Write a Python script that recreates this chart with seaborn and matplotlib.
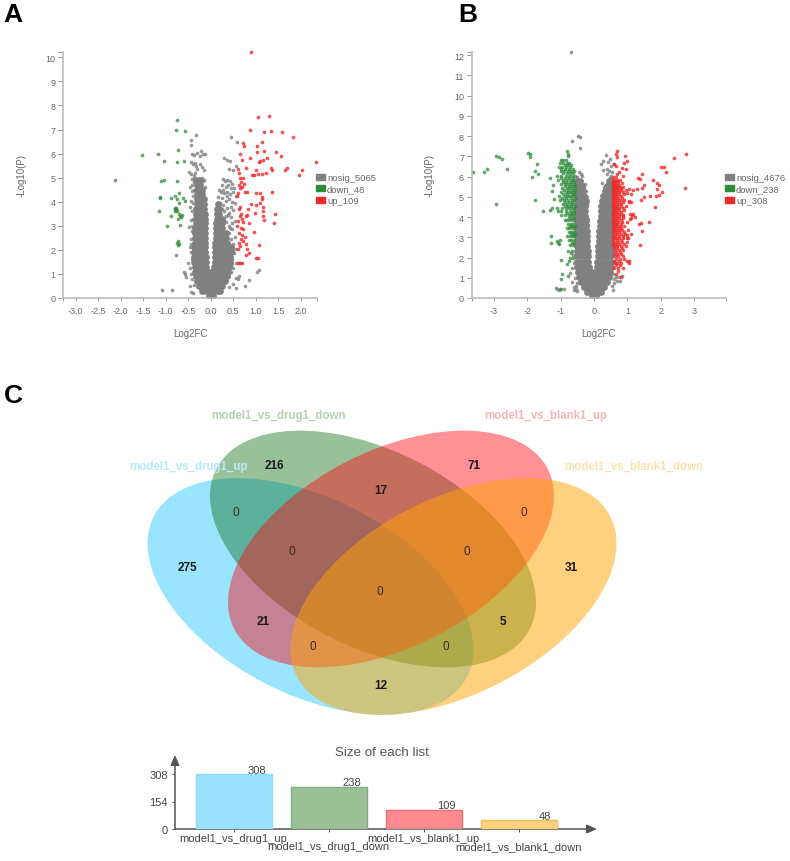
import matplotlib
matplotlib.use("Agg")
import matplotlib.pyplot as plt
from matplotlib.patches import Ellipse, Patch
import pandas as pd
import seaborn as sns

sns.set_theme(style="white")
plt.rcParams["font.family"] = ["Liberation Sans", "DejaVu Sans"]

W, H = 790, 862
GRAY, GREEN, RED = "#808080", "#2E8B3A", "#EE2A2A"
TXT = "#666666"

# ---------- Panel A values (-log10P row, Log2FC readings) ----------
a_gray_rows = [
 (0.1,[-.04,.04]),(0.3,[-.19,-.1,-.02,.06,.14,.2]),(0.5,[-.26,-.17,-.08,0,.08,.17,.26]),
 (0.7,[-.3,-.21,-.12,-.03,.05,.14,.23,.31]),(0.9,[-.33,-.24,-.15,-.06,.03,.12,.21,.3,.36]),
 (1.1,[-.35,-.26,-.17,-.08,-.02,.05,.13,.22,.31,.38]),(1.3,[-.36,-.27,-.18,-.1,.08,.15,.24,.33,.4]),
 (1.5,[-.37,-.28,-.19,-.11,.09,.16,.25,.34,.42]),(1.7,[-.37,-.28,-.19,-.11,.09,.17,.26,.35,.43]),
 (1.9,[-.37,-.28,-.19,-.12,.1,.18,.27,.36,.45]),(2.1,[-.37,-.28,-.19,-.12,.1,.18,.27,.35,.44]),
 (2.3,[-.36,-.27,-.19,-.12,.1,.18,.26,.35]),(2.5,[-.36,-.27,-.19,-.13,.11,.18,.26,.34]),
 (2.7,[-.35,-.27,-.19,-.13,.11,.18,.26,.33]),(2.9,[-.34,-.26,-.19,-.13,.12,.19,.26]),
 (3.1,[-.33,-.25,-.18,-.13,.12,.19,.26]),(3.3,[-.33,-.25,-.18,-.13,.13,.19,.25]),
 (3.5,[-.33,-.25,-.18,-.13,.13,.18]),(3.7,[-.32,-.25,-.18,-.14,.14,.19]),
 (3.9,[-.31,-.25,-.19,-.15,.15]),(4.1,[-.31,-.25,-.19,-.16]),(4.3,[-.31,-.25,-.2]),
 (4.5,[-.3,-.25,-.2]),(4.7,[-.3,-.25]),(4.9,[-.32,-.26]),
]
a_gray_sparse = [
 (-.33,6.77),(-.44,6.55),(-.44,6.35),(-.42,6.0),(-.38,5.95),(-.3,6.02),(-.25,5.92),(-.22,6.1),(-.18,5.98),(-.12,6.0),
 (-.45,5.65),(-.4,5.55),(-.36,5.6),(-.32,5.5),(-.3,5.38),(-.25,5.55),(-.2,5.45),(-.14,5.3),(-.48,5.25),(-.43,5.15),
 (-.38,5.05),(-.35,5.2),(-.42,4.95),(-.37,4.8),(-.46,4.6),(-.42,4.45),(-.2,5.0),(-.17,4.85),(-.14,4.9),(-.12,4.6),
 (-.39,4.25),(-.43,4.05),(-.47,3.8),(-.41,3.6),(-.45,3.25),(-.48,2.95),(-.42,2.8),(-.44,2.45),(-.47,2.1),(-.43,1.9),
 (-.41,1.6),(-.5,1.45),(-.47,1.25),(-.6,1.1),(-.57,.98),(-.55,.87),(-.44,1.0),(-.41,.8),(-.46,.5),(-.43,.25),(-.4,.22),
 (-.78,1.78),(-1.08,.34),(-.87,.32),(-.37,.55),(-.41,4.7),(-.38,4.5),(-.4,3.95),(-.39,3.3),(-.42,3.0),(-.43,2.25),
 (.45,6.68),(.58,6.5),(.3,5.82),(.36,5.75),(.42,5.7),(.5,5.3),(.4,5.35),(.55,5.5),(.27,4.95),(.31,4.88),(.36,4.92),
 (.42,4.85),(.26,4.7),(.33,4.6),(.39,4.68),(.47,4.75),(.52,4.55),(.18,4.5),(.23,4.4),(.3,4.35),(.37,4.42),(.43,4.3),
 (.5,4.4),(.55,4.25),(.15,4.2),(.25,4.15),(.33,4.05),(.4,4.1),(.47,4.0),(.54,3.95),(.21,3.95),(.28,3.85),(.36,3.75),
 (.44,3.8),(.5,3.65),(.3,3.6),(.38,3.45),(.46,3.35),(.54,3.2),(.33,3.15),(.4,3.0),(.47,2.85),(.53,2.55),(.5,2.25),
 (.55,2.05),(.51,1.85),(.47,1.6),(.56,1.45),(.5,1.25),(.45,1.1),(.55,.85),(.6,.8),(.62,.9),(.5,.6),(.4,.45),(.57,.4),
 (1.07,1.18),(1.02,1.1),(.84,.75),(.77,.5),(.35,4.25),(.28,4.5),(.44,4.55),(.25,3.7),(.41,3.55),(.33,3.4),(.48,3.1),
 (.4,2.7),(.45,2.45),(.42,2.9),(.29,3.25),(.5,2.0),(.48,1.4),
]
a_down = [
 (-2.13,4.9),(-1.53,5.95),(-1.18,6.0),(-1.05,5.7),(-.75,7.4),(-.77,7.0),(-.57,6.95),(-.72,6.15),(-.75,5.65),(-.6,5.7),
 (-1.1,4.85),(-1.03,4.9),(-.76,4.85),(-1.13,4.2),(-1.12,4.15),(-.89,4.15),(-.79,4.25),(-.71,4.35),(-.74,4.1),(-.62,4.15),
 (-.57,4.05),(-.7,3.95),(-1.15,3.6),(-.8,3.75),(-.78,3.7),(-.8,3.6),(-.76,3.6),(-.88,3.4),(-.7,3.5),(-.68,3.4),(-.65,3.45),
 (-.72,3.3),(-.97,3.0),(-.68,3.05),(-.72,2.35),(-.71,2.25),(-.72,2.2),(-.74,2.3),(-.67,3.35),(-.78,3.65),(-.79,3.7),(-.77,3.75),
]
a_up = [
 (.9,10.2),(1.05,7.5),(1.3,7.55),(.87,7.0),(1.18,6.9),(1.33,6.92),(1.59,6.88),(1.83,6.7),(.72,6.45),(.74,6.3),(1.03,6.33),
 (1.13,6.47),(1.18,6.12),(1.45,6.06),(1.55,5.9),(.65,5.98),(1.02,6.05),(.7,5.75),(.88,5.8),(1.15,5.75),(1.1,5.7),(1.07,5.65),
 (1.24,5.8),(2.33,5.65),(2.02,5.32),(1.95,5.1),(1.7,5.42),(1.65,5.3),(1.34,5.4),(1.35,5.3),(1.22,5.2),(1.13,5.15),(1.05,5.15),
 (.97,5.12),(.92,5.1),(1.0,5.3),(.78,5.4),(.6,5.35),(.62,5.2),(.72,5.0),(.65,5.0),(.68,4.8),(.73,4.75),(.62,4.7),(.7,4.6),
 (.66,4.55),(.75,4.4),(.8,4.42),(.6,4.35),(.58,4.25),(1.0,4.35),(1.1,4.35),(1.37,4.42),(1.13,4.2),(1.14,4.1),(.9,3.9),(1.0,3.85),
 (1.1,3.95),(1.17,3.8),(1.43,3.5),(1.17,3.6),(1.15,3.4),(1.18,3.25),(1.41,3.1),(.82,3.7),(.65,3.8),(.62,3.7),(.8,3.45),(.78,3.42),
 (.98,3.55),(.65,3.4),(.7,3.3),(.72,3.15),(.6,3.2),(.85,3.1),(.68,2.9),(.72,2.85),(.95,2.75),(.62,2.7),(.7,2.6),(.75,2.55),(.68,2.45),
 (.72,2.35),(.62,2.3),(.78,2.25),(1.08,2.2),(.65,2.15),(.6,2.05),(.8,2.05),(.85,1.85),(.78,1.8),(1.0,1.65),(1.05,1.65),(.6,1.45),
 (.65,1.45),(.7,1.45),(.67,3.5),(.58,3.0),
]
a_xticks = [-3.0,-2.5,-2.0,-1.5,-1.0,-0.5,0.0,0.5,1.0,1.5,2.0]
a_yticks = [0,1,2,3,4,5,6,7,8,9,10]
a_legend = ["nosig_5065","down_48","up_109"]

# ---------- Panel B values ----------
b_gray_rows = [
 (.1,[-.05,.05]),(.3,[-.2,-.1,0,.1,.2]),(.55,[-.3,-.2,-.1,0,.1,.2,.3]),(.8,[-.4,-.3,-.2,-.1,-.02,.04,.1,.2,.3,.4]),
 (1.05,[-.45,-.34,-.23,-.12,-.05,.05,.12,.23,.34,.45]),(1.3,[-.48,-.36,-.25,-.14,-.07,.07,.14,.25,.36,.47]),
 (1.55,[-.5,-.38,-.27,-.16,.09,.17,.28,.39,.5]),(1.8,[-.52,-.4,-.28,-.17,.1,.18,.29,.4,.5]),
 (2.05,[-.52,-.4,-.29,-.18,.11,.2,.3,.41,.5]),(2.3,[-.5,-.39,-.29,-.19,.12,.21,.31,.42,.5]),
 (2.55,[-.5,-.39,-.29,-.2,.13,.22,.32,.42,.5]),(2.8,[-.5,-.39,-.3,-.21,.14,.23,.33,.42,.5]),
 (3.05,[-.5,-.4,-.31,-.22,.15,.24,.33,.43,.5]),(3.3,[-.5,-.4,-.31,-.22,.16,.25,.34,.43,.5]),
 (3.55,[-.5,-.41,-.32,-.23,.17,.26,.35,.44,.5]),(3.8,[-.5,-.41,-.33,-.25,.18,.27,.35,.44,.5]),
 (4.05,[-.5,-.42,-.34,-.26,.2,.28,.36,.45,.5]),(4.3,[-.5,-.42,-.34,-.26,.21,.29,.37,.46,.5]),
 (4.55,[-.5,-.42,-.34,-.26,.22,.3,.38,.46,.5]),(4.8,[-.5,-.4,-.3,-.25,.23,.31,.4,.48]),
 (5.05,[-.5,-.4,-.3,.26,.33,.42,.5]),(5.3,[-.5,-.41,-.33,.33,.42,.5]),(5.55,[-.5,-.41,-.35,.4,.46,.52]),
 (5.8,[-.5,-.42,.45,.5]),
]
b_gray_sparse = [
 (-.7,12.15),(-.47,8.0),(-.43,7.95),(-.65,7.75),(-.42,7.4),(.35,7.05),(.22,6.6),(.28,6.75),(.48,6.85),(.42,6.7),(.6,6.6),
 (.5,6.5),(.38,6.35),(.26,6.3),(.46,6.25),(.55,6.2),(.4,6.1),(.52,6.02),(.47,5.95),(-.45,6.2),(-.4,6.12),(-.35,6.05),(-.5,6.0),
 (-.27,5.65),(-.3,5.5),(-.24,5.3),(-.2,5.0),(-.22,4.6),(.24,5.7),(.3,5.5),(-.19,3.9),(-.17,3.6),(-.58,1.0),(-.65,.8),(-.5,.75),
 (-.53,.6),(-.6,.55),(-.55,.45),(-.6,.4),(-.52,.35),(-1.1,.45),(-1.15,.5),(-.98,.45),(-1.05,.4),(-.9,.42),(-.72,1.25),(-.66,1.5),
 (-.6,1.75),(-.62,2.1),(.55,.6),(.6,.95),(.65,1.05),(.75,1.05),(.85,1.1),(.7,.85),(.57,.4),(.58,1.2),(.6,.75),(.77,.85),
]
b_down_rows = [
 (2.0,[-.72,-.62]),(2.3,[-.78,-.66]),(2.6,[-.72,-.63]),(2.85,[-.76,-.68,-.6]),(3.05,[-.8,-.72,-.66,-.6]),
 (3.25,[-.75,-.69,-.62]),(3.45,[-.82,-.74,-.67,-.61]),(3.65,[-.78,-.7,-.63]),(3.85,[-.88,-.8,-.71,-.64]),
 (4.1,[-1.0,-.86,-.76,-.69,-.62]),(4.3,[-1.08,-.98,-.83,-.72,-.64]),(4.45,[-1.1,-.95,-.85,-.74,-.66,-.6]),
 (4.65,[-.92,-.82,-.7,-.62]),(4.85,[-1.02,-.9,-.78,-.67,-.6]),(5.05,[-1.05,-.88,-.79,-.72,-.62]),
 (5.25,[-.98,-.85,-.75,-.68,-.6]),(5.45,[-.95,-.82,-.72,-.63]),(5.65,[-1.0,-.88,-.78,-.68,-.6]),
 (5.85,[-1.08,-.92,-.8,-.7,-.62]),(6.05,[-1.12,-.98,-.85,-.74,-.66,-.58]),(6.25,[-1.0,-.9,-.78,-.68,-.6]),
 (6.45,[-1.06,-.95,-.84,-.72]),(6.65,[-1.02,-.92,-.8,-.75]),(6.8,[-1.0,-.94,-.85]),
 (2.72,[-.67,-.59]),(3.16,[-.7,-.58]),(3.55,[-.72,-.65,-.58]),(3.95,[-.76,-.66,-.6]),(4.2,[-.8,-.7,-.59]),
 (4.55,[-.88,-.78,-.68,-.58]),(4.75,[-.86,-.75,-.65]),(4.95,[-.96,-.84,-.7,-.58]),(5.15,[-.93,-.82,-.67,-.59]),
 (5.35,[-.9,-.78,-.65,-.57]),(5.55,[-.86,-.75,-.66,-.58]),(5.75,[-.94,-.83,-.73,-.64]),(5.95,[-1.0,-.87,-.76,-.64]),
 (6.15,[-.94,-.82,-.71,-.63]),(6.35,[-.98,-.86,-.74,-.64]),(6.55,[-.88,-.78,-.7]),
]
b_down = [
 (-.8,7.25),(-.79,7.1),(-.78,7.0),(-2.93,7.02),(-2.85,6.95),(-2.76,6.88),(-1.97,7.17),(-1.93,7.1),(-1.93,6.98),(-3.2,6.35),
 (-3.3,6.22),(-2.6,6.37),(-1.72,6.62),(-1.78,6.25),(-1.67,6.1),(-1.85,5.98),(-3.63,6.2),(-2.92,4.65),(-1.77,4.85),(-1.52,4.3),
 (-1.32,4.35),(-1.25,4.45),(-1.33,5.95),(-1.22,5.6),(-1.27,5.3),(-1.2,4.9),(-1.28,3.05),(-1.28,2.72),(-1.12,2.8),(-1.08,2.72),
 (-1.05,2.65),(-1.02,2.85),(-.98,1.9),(-.82,1.7),(-.75,1.85),(-.95,1.2),(-.98,.95),(-.77,1.1),(-.7,2.2),(-.62,3.2),(-1.02,.45),
]
b_up_rows = [
 (1.5,[.6,.72,.88]),(1.75,[.62,.7,.8,1.04]),(1.95,[.66,.78,.9]),(2.15,[.6,.7,.82]),(2.35,[.63,.74,.88]),
 (2.55,[.6,.68,.8,.95]),(2.75,[.62,.72,.84,.98]),(2.95,[.6,.66,.76,.88,1.0]),(3.15,[.62,.7,.8,.93]),
 (3.35,[.59,.66,.75,.85,1.02]),(3.55,[.6,.68,.78,.9]),(3.75,[.58,.64,.72,.84,.98]),(3.95,[.6,.67,.76,.88,1.12]),
 (4.15,[.58,.63,.72,.82,1.08,1.18]),(4.35,[.6,.66,.76,.9]),(4.55,[.58,.64,.7,.8,.96]),(4.75,[.6,.67,.76,.88,1.04]),
 (4.95,[.58,.63,.72,.84]),(5.15,[.6,.66,.76,.9]),(5.35,[.58,.64,.72,.82,.95]),(5.5,[.6,.68,.78,.88]),
 (5.7,[.58,.64,.72,.84]),(5.85,[.6,.68,.78]),(5.98,[.58,.65]),
 (1.63,[.66,.78]),(1.85,[.6,.74]),(2.05,[.62,.72,.86]),(2.25,[.66,.78]),(2.45,[.6,.7,.84]),(2.65,[.58,.66,.76,.9]),
 (2.85,[.58,.68,.82]),(3.05,[.58,.64,.74,.86]),(3.25,[.58,.66,.76,.9]),(3.45,[.58,.64,.72,.82]),(3.65,[.56,.62,.7,.8]),
 (3.85,[.56,.63,.7,.82]),(4.05,[.57,.66,.76,.86]),(4.25,[.56,.62,.7,.8]),(4.45,[.57,.62,.68,.76,.86]),
 (4.65,[.57,.63,.72,.82]),(4.85,[.56,.62,.68,.78,.9]),(5.05,[.57,.62,.7,.8]),(5.25,[.56,.62,.68,.76,.86]),
 (5.42,[.57,.63,.7,.8]),(5.6,[.56,.62,.68,.76]),(5.78,[.56,.62,.7]),
]
b_up = [
 (.68,7.25),(.65,7.1),(.92,7.0),(.7,6.95),(.98,6.75),(.9,6.65),(.6,6.6),(.65,6.5),(.85,6.4),(.95,6.35),(.75,6.2),(.68,6.1),
 (.88,6.05),(2.75,7.1),(2.4,6.92),(2.0,6.45),(2.1,6.45),(2.14,6.2),(1.43,6.12),(1.33,5.92),(1.37,5.88),(1.75,5.82),(1.88,5.7),
 (1.95,5.6),(2.73,5.45),(1.5,5.6),(1.45,5.45),(1.28,5.4),(1.05,5.4),(1.18,5.35),(1.87,5.4),(2.03,5.25),(1.93,5.1),(1.85,5.05),
 (1.67,5.05),(1.5,5.0),(1.4,4.85),(1.0,5.2),(1.12,5.15),(1.83,4.5),(1.04,4.8),(1.1,4.75),(1.15,4.1),(1.22,4.0),(1.07,3.9),
 (1.65,3.75),(1.4,3.7),(1.35,3.65),(1.45,3.3),(1.12,3.15),(1.38,2.6),(1.0,3.1),(1.02,2.95),(.88,4.1),(1.0,1.85),(1.06,1.85),
 (.72,1.35),(.65,1.2),(.8,1.05),
]
b_xticks = [-3,-2,-1,0,1,2,3]
b_yticks = [0,1,2,3,4,5,6,7,8,9,10,11,12]
b_legend = ["nosig_4676","down_238","up_308"]

# ---------- Panel C values ----------
venn_counts = ["216","71","17","0","0","0","0","275","31","0","21","5","0","0","12"]
venn_count_x = [274,474,381,236,524,292,467,187,571,380,263,503,313,446,381]
venn_count_y = [466,466,491,513,513,552,552,568,568,592,622,622,647,647,686]
venn_names = ["model1_vs_drug1_up","model1_vs_drug1_down","model1_vs_blank1_up","model1_vs_blank1_down"]
list_sizes = [308,238,109,48]
list_ticks = [0,154,308]
fill_colors = ["#99E2FF","#9BC096","#FF8A8F","#FFD27F"]
edge_colors = ["#8FDDFB","#7FAF80","#E86F76","#F0BE62"]
venn_base = ["#00BFFF","#006400","#FF0A14","#FFA500"]
venn_alpha = [0.4,0.4,0.45,0.5]
name_colors = ["#B5E9FB","#B7D0B6","#F2B6BC","#F7E3B0"]


def rows_frame(rows):
    return pd.DataFrame([(x, p) for p, xs in rows for x in xs], columns=["fc", "p"])


def pts_frame(pts):
    return pd.DataFrame(pts, columns=["fc", "p"])


def rect(l, t, r, b):
    return [l / W, 1 - b / H, (r - l) / W, (b - t) / H]


fig = plt.figure(figsize=(W / 100, H / 100), dpi=100, facecolor="white")


def volcano(box, xlim, ylim, xticks, yticks, fmt, core, sparse, down, up, labels, legend_x):
    ax = fig.add_axes(rect(*box))
    ax.set_xlim(*xlim)
    ax.set_ylim(*ylim)
    kw = dict(linewidth=0, ax=ax, legend=False)
    sns.scatterplot(data=core, x="fc", y="p", s=24, color=GRAY, **kw)
    sns.scatterplot(data=sparse, x="fc", y="p", s=7, color=GRAY, alpha=.8, clip_on=False, **kw)
    for frame in down:
        sns.scatterplot(data=frame, x="fc", y="p", s=7, color=GREEN, alpha=.75, clip_on=False, **kw)
    for frame in up:
        sns.scatterplot(data=frame, x="fc", y="p", s=7, color=RED, alpha=.8, clip_on=False, **kw)
    ax.set_xticks(xticks)
    ax.set_xticklabels([fmt(v) for v in xticks])
    ax.set_yticks(yticks)
    ax.set_xticks(list(xlim), minor=True)
    ax.set_yticks([ylim[1]], minor=True)
    ax.tick_params(axis="x", which="both", length=2.5, width=.7, color="#999999", labelsize=6.5,
                   labelcolor=TXT, pad=3, bottom=True)
    ax.tick_params(axis="y", which="both", length=3.5, width=.7, color="#999999", labelsize=6.5,
                   labelcolor=TXT, pad=2, left=True)
    for s in ("top", "right"):
        ax.spines[s].set_visible(False)
    for s in ("left", "bottom"):
        ax.spines[s].set_color("#B8B8B8")
        ax.spines[s].set_linewidth(1.1)
    ax.set_xlabel("Log2FC", fontsize=7, color=TXT, va="center")
    ax.set_ylabel("-Log10(P)", fontsize=7, color=TXT, va="center")
    ax.xaxis.set_label_coords(.5, -35 / (box[3] - box[1]))
    ax.yaxis.set_label_coords(-(box[0] - (22 if box[0] < 300 else 430)) / (box[2] - box[0]), .5)
    handles = [Patch(color=c, label=l) for c, l in zip([GRAY, GREEN, RED], labels)]
    fig.legend(handles=handles, loc="upper left", bbox_to_anchor=(legend_x / W, 1 - 174 / H),
               frameon=False, fontsize=6.8, borderpad=0, borderaxespad=0, labelspacing=.28,
               handlelength=.95, handleheight=.6, handletextpad=.22, labelcolor=TXT)
    return ax


volcano((63.3, 53, 317, 299), (-3.276, 2.36), (0, 10.22), a_xticks, a_yticks, lambda v: f"{v:.1f}",
        rows_frame(a_gray_rows), pts_frame(a_gray_sparse),
        [pts_frame(a_down)], [pts_frame(a_up)], a_legend, 316)
volcano((471.7, 53, 725.7, 299), (-3.66, 3.94), (0, 12.15), b_xticks, b_yticks, lambda v: f"{v:d}",
        rows_frame(b_gray_rows), pts_frame(b_gray_sparse),
        [rows_frame(b_down_rows), pts_frame(b_down)],
        [rows_frame(b_up_rows), pts_frame(b_up)], b_legend, 725)

# ---------- Venn diagram on a pixel-scaled canvas ----------
cv = fig.add_axes([0, 0, 1, 1])
cv.set_xlim(0, W)
cv.set_ylim(H, 0)
cv.axis("off")
centers = [(310.5, 597.5), (373, 550), (391, 550), (453.5, 597.5)]
angles = [27, 27, -27, -27]
for c, ang, col, al in zip(centers, angles, venn_base, venn_alpha):
    cv.add_patch(Ellipse(c, 352, 196, angle=ang, facecolor=col, alpha=al, edgecolor="none"))
for t, x, y in zip(venn_counts, venn_count_x, venn_count_y):
    zero = t == "0"
    cv.text(x, y, t, ha="center", va="center", fontsize=8.5, color="#3A2A20" if zero else "#1A1A1A",
            fontweight="normal" if zero else "bold")
name_x = [189, 279, 546, 634]
name_y = [467, 416, 416, 467]
for n, x, y, c in zip(venn_names, name_x, name_y, name_colors):
    cv.text(x, y, n, ha="center", va="center", fontsize=8.3, fontweight="bold", color=c)
for t, x, y in zip("ABC", [13, 468, 13], [15, 15, 396]):
    cv.text(x, y, t, ha="center", va="center", fontsize=19, fontweight="bold", color="black")

# ---------- Bar chart ----------
bar = fig.add_axes(rect(175, 757, 595, 830), facecolor="none")
sns.barplot(x=venn_names, y=list_sizes, hue=venn_names, palette=fill_colors, saturation=1, width=.8,
            legend=False, dodge=False, ax=bar)
for p, ec in zip(bar.patches, edge_colors):
    p.set_edgecolor(ec)
    p.set_linewidth(1)
bar.set_xlim(-.618, 3.803)
bar.set_ylim(0, 408.8)
bar.set_yticks(list_ticks)
bar.set_xticks(range(4))
bar.set_xticklabels([""] * 4)
bar.set_xlabel("")
bar.set_ylabel("")
bar.tick_params(axis="both", length=2, width=.7, color="#555555", labelsize=8, labelcolor="#444444",
                pad=3, bottom=True, left=True)
for s in ("top", "right", "left", "bottom"):
    bar.spines[s].set_visible(False)
arrow = dict(arrowstyle="-|>,head_width=.22,head_length=.5", color="#555555", lw=1.1, shrinkA=0, shrinkB=0)
cv.annotate("", xy=(175, 756), xytext=(175, 830), arrowprops=arrow, annotation_clip=False)
cv.annotate("", xy=(597, 830), xytext=(175, 830), arrowprops=arrow, annotation_clip=False)
label_y = [839, 847, 839, 847]
for i, (n, y) in enumerate(zip(venn_names, label_y)):
    cv.text(233.7 + i * 95, y, n, ha="center", va="center", fontsize=8, color="#444444")
for i, (v, dx, y) in enumerate(zip(list_sizes, [23, 23, 23, 26], [771, 783, 806, 817])):
    cv.text(233.7 + i * 95 + dx, y, str(v), ha="center", va="center", fontsize=8, color="#444444")
cv.text(381.5, 753, "Size of each list", ha="center", va="center", fontsize=9.6, color="#555555")

fig.savefig("out.png", dpi=100, facecolor="white")
